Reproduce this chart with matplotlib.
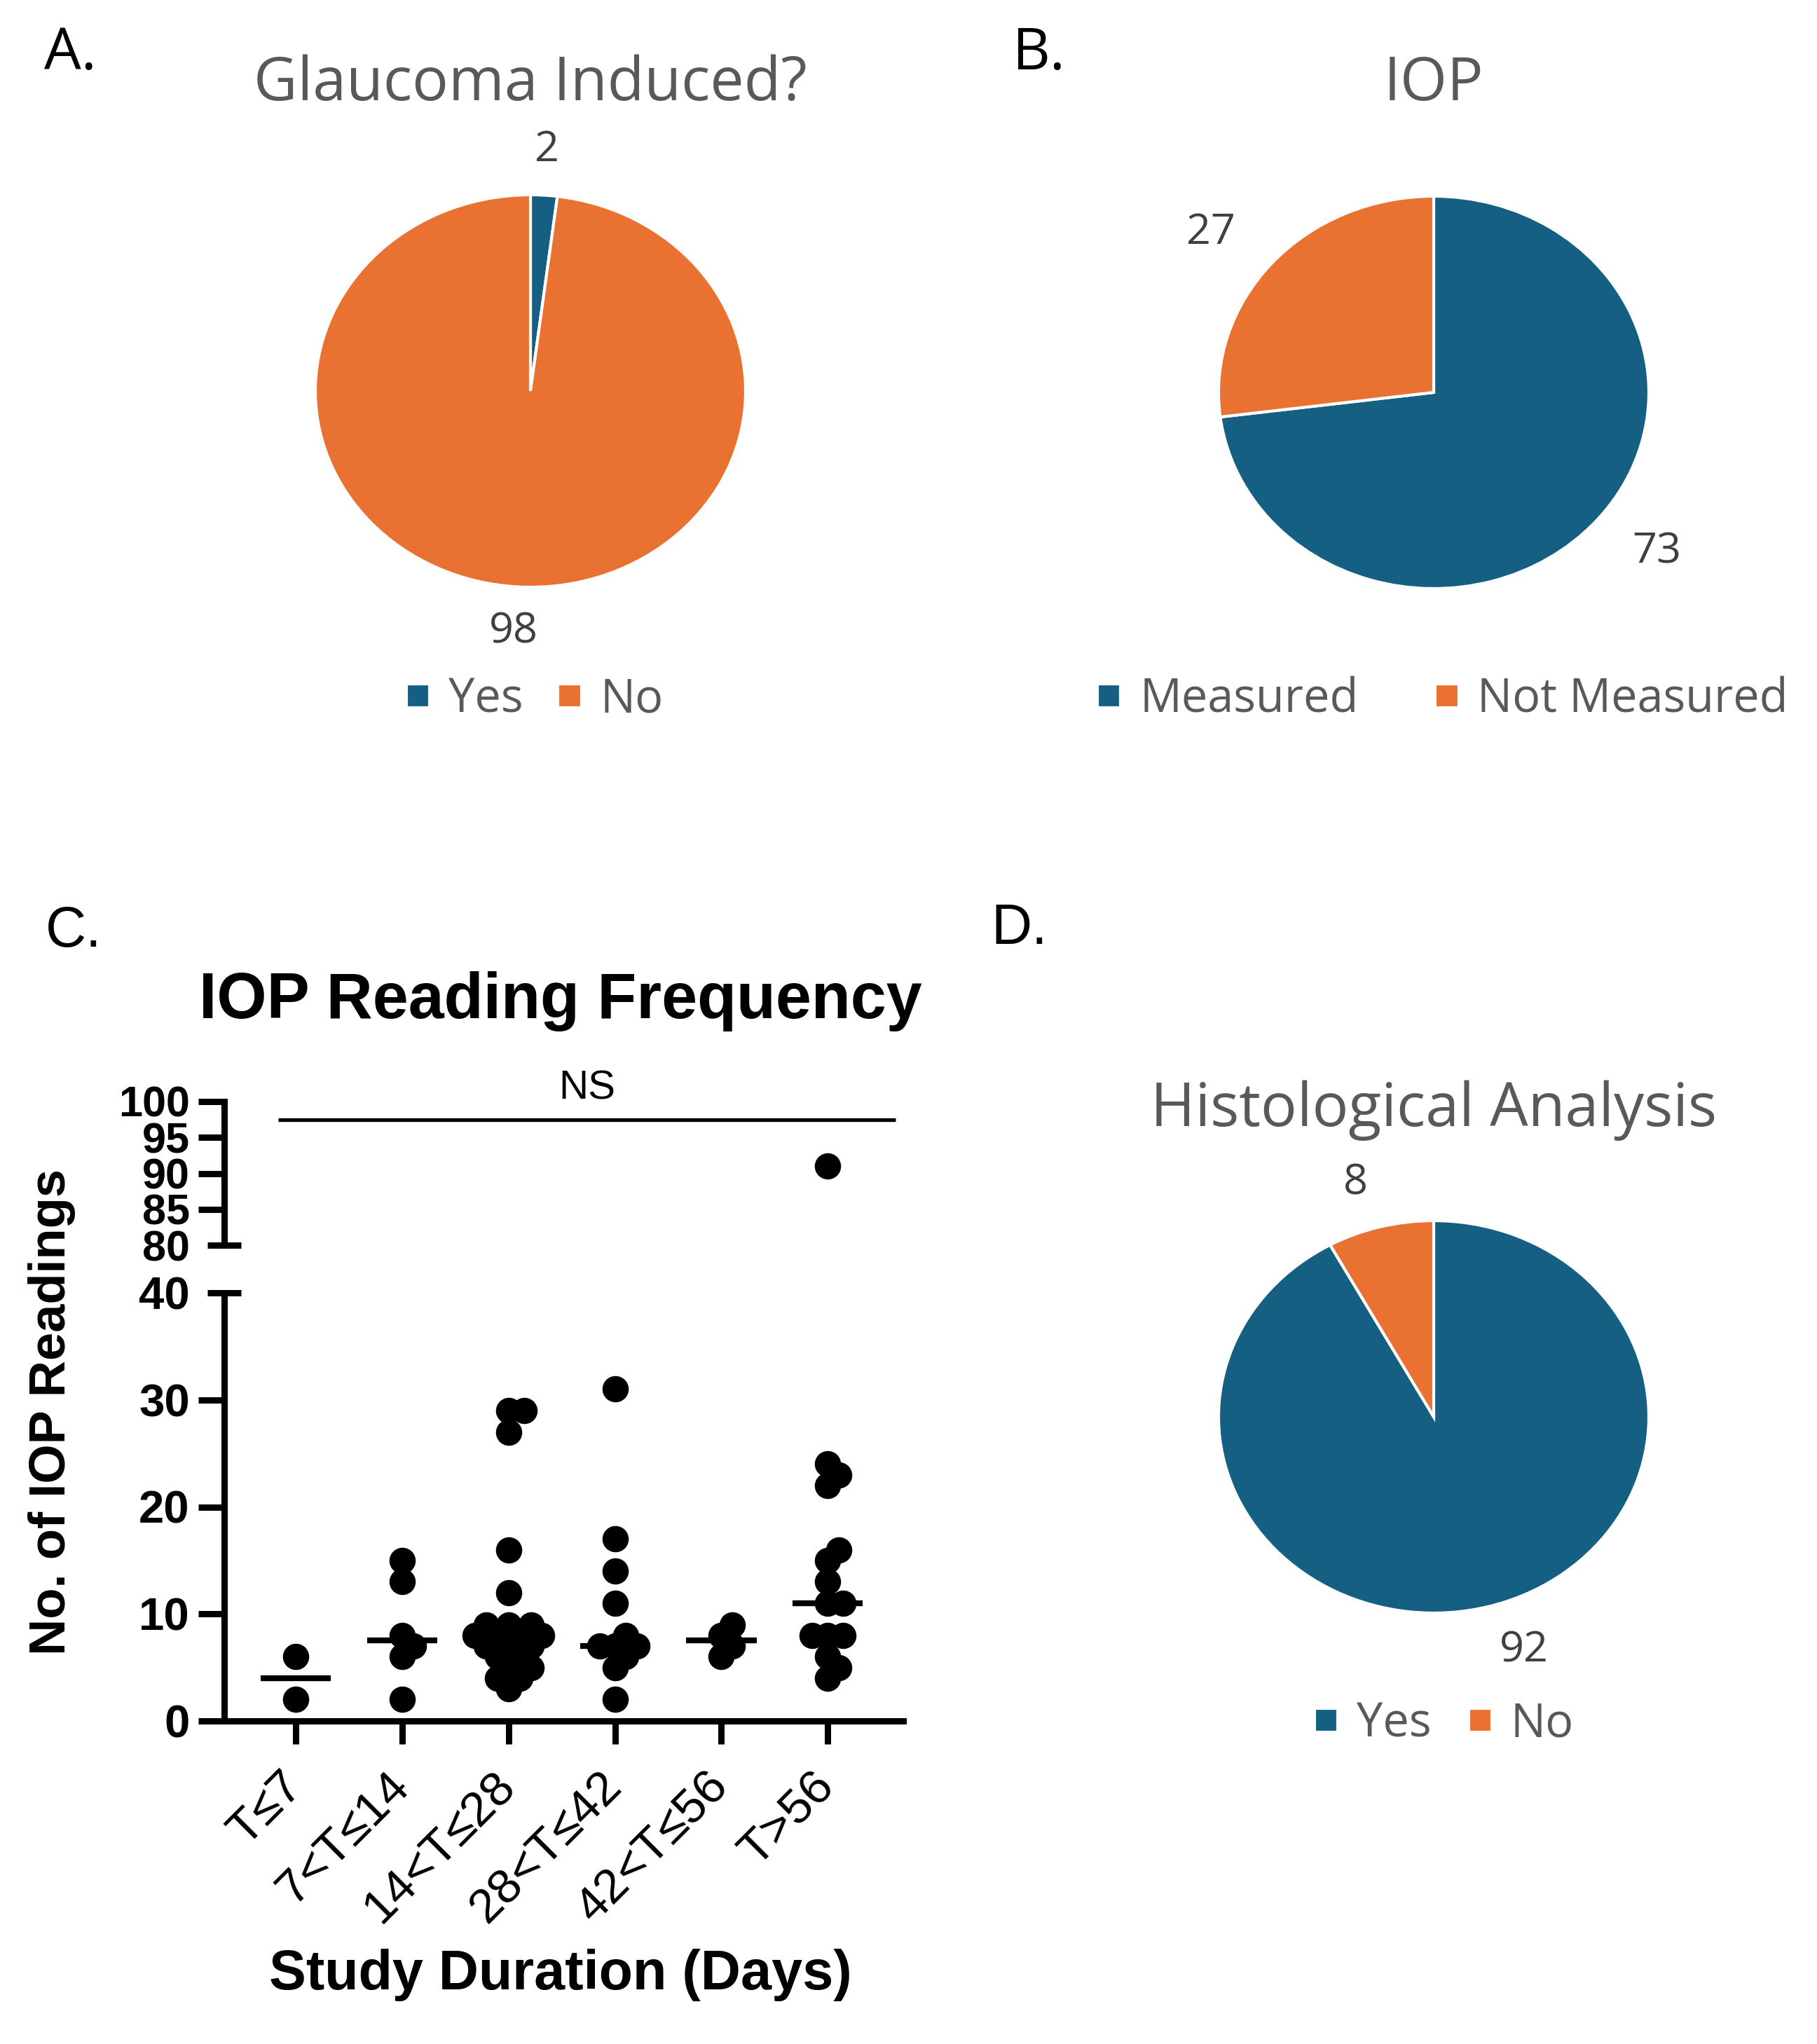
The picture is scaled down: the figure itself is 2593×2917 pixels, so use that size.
import numpy as np
import matplotlib
matplotlib.use("Agg")
import matplotlib.pyplot as plt

W, H = 2593, 2917
DPI = 100

blue = '#156082'
orange = '#E97132'
grey_title = '#595959'
grey_lbl = '#404040'
pie_font = ['Open Sans', 'DejaVu Sans']
prism_font = ['Liberation Sans', 'DejaVu Sans']

## pie data
glaucoma_names = ['Yes', 'No']
glaucoma_vals = [2, 98]
iop_names = ['Measured', 'Not Measured']
iop_vals = [73, 27]
histo_names = ['Yes', 'No']
histo_vals = [92, 8]

## scatter data (No. of IOP readings per study)
groups = ['T≤7', '7<T≤14', '14<T≤28', '28<T≤42', '42<T≤56', 'T>56']
t7 = [2, 6]
t14 = [2, 6, 7, 8, 13, 15]
t28 = [3, 4, 4, 5, 5, 6, 6, 7, 7, 7, 8, 8, 8, 8, 9, 9, 9, 12, 16, 27, 29, 29]
t42 = [2, 5, 6, 7, 7, 7, 8, 11, 14, 17, 31]
t56 = [6, 7, 8, 9]
t_over = [4, 5, 6, 8, 8, 8, 11, 11, 13, 15, 16, 22, 23, 24, 91]
readings = [t7, t14, t28, t42, t56, t_over]

fig = plt.figure(figsize=(W / DPI, H / DPI), dpi=DPI)


def px_axes(x0, y0, x1, y1):
    return fig.add_axes([x0 / W, 1 - y1 / H, (x1 - x0) / W, (y1 - y0) / H])


def fx(x):
    return x / W


def fy(y):
    return 1 - y / H


def draw_pie(cx, cy, vals, names, title, title_y, leg_x, leg_y, colsp):
    ax = px_axes(cx - 307, cy - 280, cx + 307, cy + 280)
    wedges, texts = ax.pie(vals, labels=[str(v) for v in vals], colors=[blue, orange],
                           startangle=90, counterclock=False, labeldistance=1.23,
                           wedgeprops=dict(edgecolor='white', linewidth=3),
                           textprops=dict(fontsize=44, color=grey_lbl, family=pie_font))
    # labels near the vertical axis are centred, like the spreadsheet does
    for t in texts:
        if abs(t.get_position()[0]) < 0.2:
            t.set_ha('center')
    ax.set_aspect('auto')
    ax.set_xlim(-1, 1)
    ax.set_ylim(-1, 1)
    fig.text(fx(cx), fy(title_y), title, ha='center', va='center', fontsize=62,
             color=grey_title, family=pie_font)
    fig.legend(wedges, names, loc='center', bbox_to_anchor=(fx(leg_x), fy(leg_y)),
               ncol=2, frameon=False, handlelength=0.5, handleheight=0.39,
               handletextpad=0.4, columnspacing=colsp,
               prop=dict(size=48, family=pie_font), labelcolor=grey_title)
    return ax


draw_pie(757, 558, glaucoma_vals, glaucoma_names, 'Glaucoma Induced?', 121, 763, 999, 0.75)
draw_pie(2046, 560, iop_vals, iop_names, 'IOP', 121, 2059, 999, 1.65)
draw_pie(2046, 2022, histo_vals, histo_names, 'Histological Analysis', 1585, 2061, 2461, 0.8)

# panel letters
fig.text(fx(63), fy(78), 'A.', fontsize=60, family=pie_font, va='center')
fig.text(fx(1445), fy(78), 'B.', fontsize=60, family=pie_font, va='center')
fig.text(fx(65), fy(1330), 'C.', fontsize=58, family=prism_font, va='center')
fig.text(fx(1414), fy(1326), 'D.', fontsize=58, family=prism_font, va='center')


## scatter dot plot with broken y axis
def swarm(vals, ppx, ppy, d=22.0):
    vals = np.asarray(vals, dtype=float)
    xs = np.zeros(len(vals))
    placed = []
    for i in np.argsort(vals, kind='stable'):
        y = vals[i] * ppy
        cands = [0.0]
        for px_, py_ in placed:
            dy = y - py_
            if abs(dy) < d:
                dx = np.sqrt(d * d - dy * dy)
                cands += [px_ + dx, px_ - dx]
        cands.sort(key=abs)
        for c in cands:
            if all((c - px_) ** 2 + (y - py_) ** 2 >= d * d - 1e-6 for px_, py_ in placed):
                xs[i] = c
                placed.append((c, y))
                break
    return xs / ppx


ax_lo = px_axes(320, 1845, 1289, 2456)
ax_hi = px_axes(320, 1572, 1289, 1777)
xlim = (-0.674, 5.71)
lw = 6.5
ppx = 969 / (xlim[1] - xlim[0])

for ax, (lo, hi) in [(ax_lo, (0, 40)), (ax_hi, (80, 100))]:
    ax.set_xlim(*xlim)
    ax.set_ylim(lo, hi)
    for s in ['top', 'right']:
        ax.spines[s].set_visible(False)
    ax.spines['left'].set_linewidth(lw)
    ax.spines['bottom'].set_linewidth(lw)
    ppy = 611 / 40 if lo == 0 else 205 / 20
    for i, vals in enumerate(readings):
        v = np.array([x for x in vals if lo <= x <= hi])
        if len(v) == 0:
            continue
        off = swarm(v, ppx, ppy)
        ax.plot(i + off, v, 'o', color='black', ms=27, mew=0, clip_on=False, zorder=3)

ax_hi.spines['bottom'].set_visible(False)
ax_hi.set_xticks([])

for i, vals in enumerate(readings):
    m = np.median(vals)
    ax_lo.plot([i - 0.33, i + 0.33], [m, m], color='black', lw=6, zorder=4,
               solid_capstyle='butt')

ax_lo.set_xticks(range(len(groups)))
ax_lo.set_xticklabels(groups, rotation=45, ha='right', va='center', rotation_mode='anchor',
                      fontsize=50, family=prism_font)
ax_lo.tick_params(axis='x', length=24, width=lw, pad=36)

ax_lo.set_yticks([0, 10, 20, 30])
ax_lo.set_yticks([40], minor=True)
ax_lo.set_yticklabels(['0', '10', '20', '30'], fontsize=47, fontweight='bold', family=prism_font)
ax_lo.set_yticklabels(['40'], minor=True, fontsize=47, fontweight='bold', family=prism_font)
ax_hi.set_yticks([85, 90, 95, 100])
ax_hi.set_yticks([80], minor=True)
ax_hi.set_yticklabels(['85', '90', '95', '100'], fontsize=44, fontweight='bold', family=prism_font)
ax_hi.set_yticklabels(['80'], minor=True, fontsize=44, fontweight='bold', family=prism_font)
for ax in (ax_lo, ax_hi):
    ax.tick_params(axis='y', which='major', length=26.5, width=lw, pad=9)
    ax.tick_params(axis='y', which='minor', direction='inout', length=35, width=lw, pad=18)

# NS bar
ns_x = [-0.17, 5.64]
ax_hi.plot(ns_x, [97.5, 97.5], color='black', lw=3.8, clip_on=False, solid_capstyle='butt')
ax_hi.annotate('NS', (np.mean(ns_x), 97.5), xytext=(0, 12), textcoords='offset points',
               ha='center', va='bottom', fontsize=42, family=prism_font, annotation_clip=False)

fig.text(fx(800), fy(1429), 'IOP Reading Frequency', ha='center', va='center',
         fontsize=66, fontweight='bold', family=prism_font)
fig.text(fx(800), fy(2818), 'Study Duration (Days)', ha='center', va='center',
         fontsize=57, fontweight='bold', family=prism_font)
fig.text(fx(74), fy(2015), 'No. of IOP Readings', ha='center', va='center', rotation=90,
         fontsize=52, fontweight='bold', family=prism_font)

fig.savefig('out.png', dpi=DPI, facecolor='white')
